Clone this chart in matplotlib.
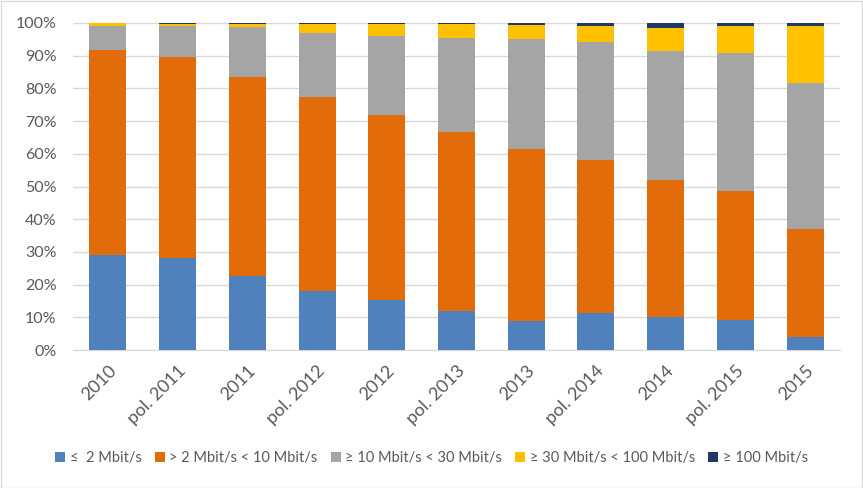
import numpy as np
import matplotlib.pyplot as plt
from matplotlib.ticker import PercentFormatter
from matplotlib.patches import Rectangle

categories = ["2010", "pol. 2011", "2011", "pol. 2012", "2012", "pol. 2013",
              "2013", "pol. 2014", "2014", "pol. 2015", "2015"]

# podíly v %
le_2 = [29.2, 28.0, 22.6, 18.0, 15.3, 11.9, 8.9, 11.3, 10.1, 9.2, 4.0]
from_2_to_10 = [62.5, 61.7, 61.0, 59.5, 56.6, 54.8, 52.6, 46.8, 41.9, 39.4, 33.0]
from_10_to_30 = [7.4, 9.3, 15.1, 19.3, 24.2, 28.7, 33.5, 36.1, 39.4, 42.2, 44.8]
from_30_to_100 = [0.9, 0.7, 1.0, 2.9, 3.6, 4.2, 4.4, 5.0, 7.1, 8.4, 17.4]
ge_100 = [0.2, 0.3, 0.3, 0.3, 0.3, 0.4, 0.6, 0.8, 1.5, 0.8, 0.8]

labels = ["≤  2 Mbit/s", "> 2 Mbit/s < 10 Mbit/s", "≥ 10 Mbit/s < 30 Mbit/s",
          "≥ 30 Mbit/s < 100 Mbit/s", "≥ 100 Mbit/s"]
colors = ["#4F81BD", "#E36C0A", "#A5A5A5", "#FFC000", "#1F3864"]

plt.rcParams['font.family'] = ['Lato', 'DejaVu Sans']
txt = "#595959"

fig = plt.figure(figsize=(8.63, 4.88), dpi=100)
ax = fig.add_axes([73/863, 1-350/488, (840-73)/863, (350-23)/488])

x = np.arange(len(categories))
bottom = np.zeros(len(categories))
for vals, lab, col in zip([le_2, from_2_to_10, from_10_to_30, from_30_to_100, ge_100], labels, colors):
    ax.bar(x, vals, 0.53, bottom=bottom, color=col, label=lab, zorder=3)
    bottom += np.array(vals)

ax.set_xlim(-0.5, len(categories) - 0.5)
ax.set_ylim(0, 100)
ax.set_yticks(np.arange(0, 101, 10))
ax.yaxis.set_major_formatter(PercentFormatter(decimals=0))
ax.grid(axis='y', color='#D9D9D9', linewidth=1, zorder=0)
for s in ['top', 'right', 'left']:
    ax.spines[s].set_visible(False)
ax.spines['bottom'].set_color('#D9D9D9')
ax.tick_params(axis='both', length=0, colors=txt)
ax.tick_params(axis='y', pad=12, labelsize=11.5)
ax.set_xticks(x)
ax.set_xticklabels(categories, rotation=45, ha='right', rotation_mode='anchor')
ax.tick_params(axis='x', pad=9, labelsize=13)

fig.legend(loc='center', bbox_to_anchor=(0.5, 1-458/488), ncol=5, frameon=False,
           fontsize=10.5, handlelength=0.7, handleheight=0.7, handletextpad=0.3,
           columnspacing=0.9, labelcolor=txt)

fig.patches.append(Rectangle((0.001, 0.001), 0.998, 0.997, transform=fig.transFigure,
                             fill=False, edgecolor='#D9D9D9', linewidth=1))

fig.savefig("out.png", dpi=100)
